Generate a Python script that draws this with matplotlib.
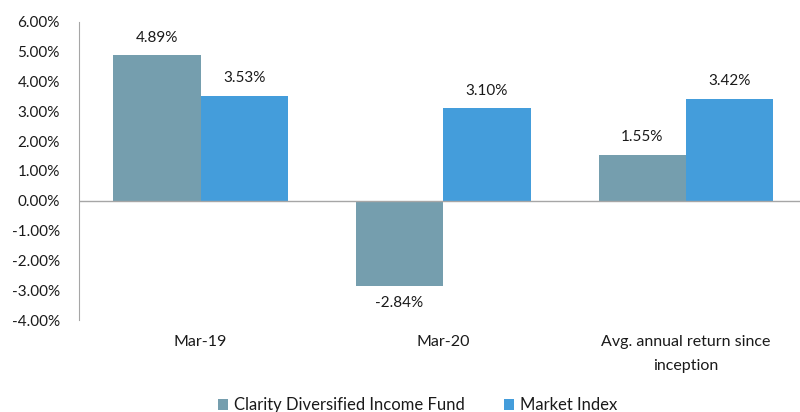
import matplotlib.pyplot as plt
import numpy as np
from matplotlib.ticker import FuncFormatter

# データ定義
categories = ['Mar-19', 'Mar-20', 'Avg. annual return since\ninception']
fund = [4.89, -2.84, 1.55]
index = [3.53, 3.10, 3.42]
series_names = ['Clarity Diversified Income Fund', 'Market Index']
colors = ['#759eae', '#449ddb']

plt.rcParams['font.family'] = ['Lato', 'DejaVu Sans']

fig = plt.figure(figsize=(8, 4.12), dpi=100)
ax = fig.add_axes([0.099, 0.223, 0.91, 0.724])

x = np.arange(len(categories))
w = 0.36
b1 = ax.bar(x - w / 2, fund, w, color=colors[0], label=series_names[0])
b2 = ax.bar(x + w / 2, index, w, color=colors[1], label=series_names[1])

# データラベル
for bars in (b1, b2):
    for r in bars:
        v = r.get_height()
        xc = r.get_x() + r.get_width() / 2
        if v >= 0:
            ax.text(xc, v + 0.35, f'{v:.2f}%', ha='center', va='bottom', fontsize=11, color='#1a1a1a')
        else:
            ax.text(xc, v - 0.35, f'{v:.2f}%', ha='center', va='top', fontsize=11, color='#1a1a1a')

ax.set_xlim(-0.5, 2.5)
ax.set_ylim(-4, 6)
ax.set_yticks(np.arange(-4, 7, 1))
ax.yaxis.set_major_formatter(FuncFormatter(lambda v, p: f'{v:.2f}%'))
ax.set_xticks(x)
ax.set_xticklabels(categories, fontsize=11.5, linespacing=1.85, color='#1a1a1a')
ax.tick_params(axis='y', length=0, labelsize=11, pad=14, labelcolor='#1a1a1a')
ax.tick_params(axis='x', length=0, pad=11)

for s in ['top', 'right', 'bottom']:
    ax.spines[s].set_visible(False)
ax.spines['left'].set_color('#a6a6a6')
ax.axhline(0, color='#a6a6a6', linewidth=1)

fig.legend(loc='lower center', bbox_to_anchor=(0.522, -0.04), ncol=2, frameon=False,
           fontsize=12, handlelength=0.6, handleheight=0.6, columnspacing=2.3, handletextpad=0.4,
           labelcolor='#1a1a1a')

fig.savefig('out.png', dpi=100)
